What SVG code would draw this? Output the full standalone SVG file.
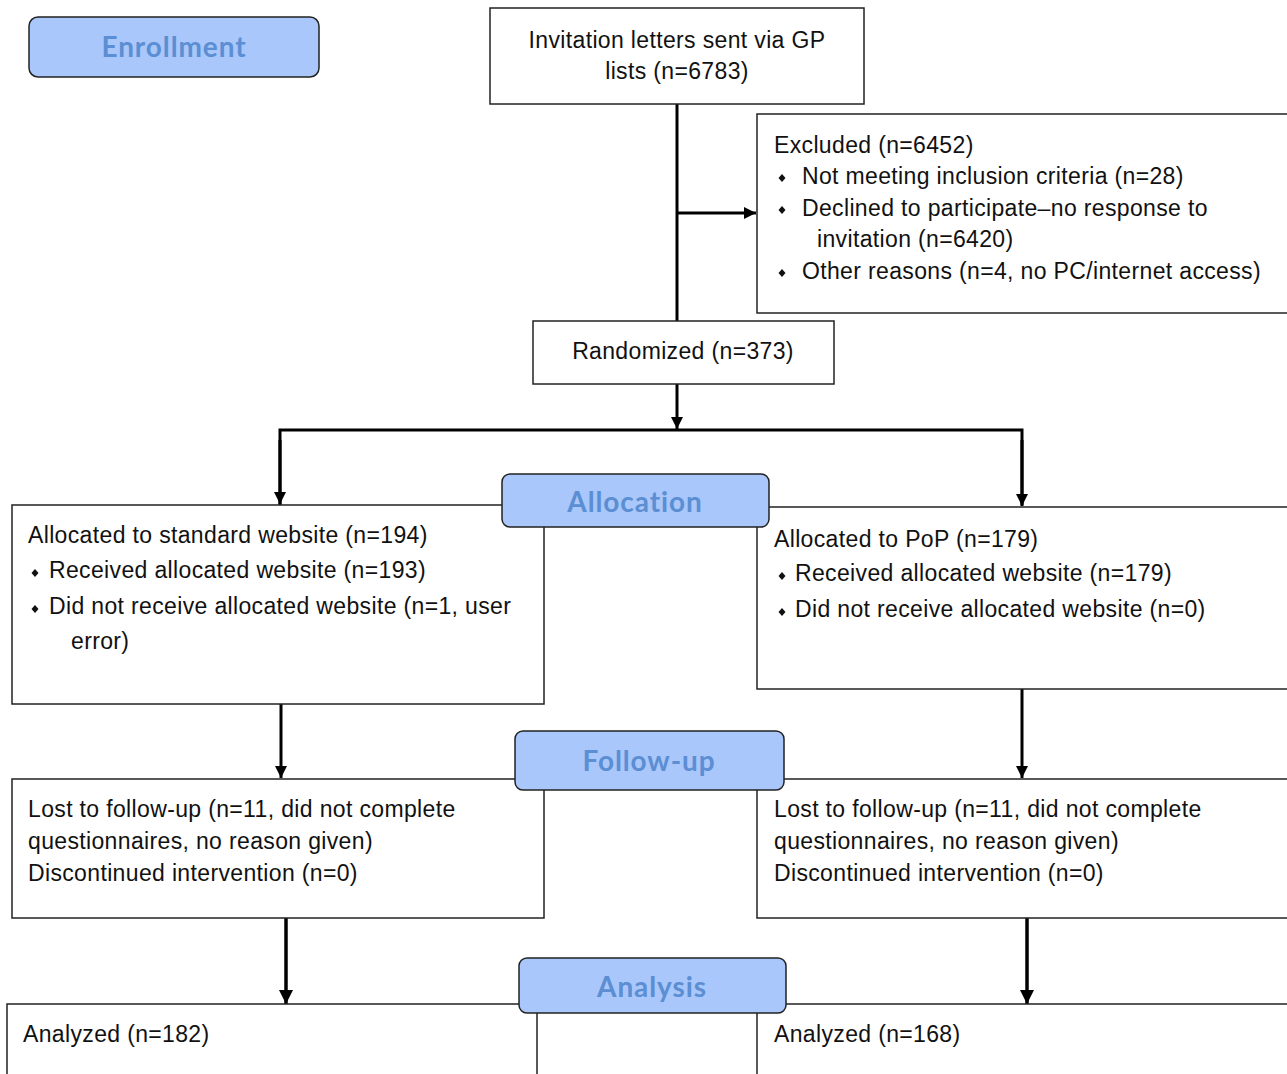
<svg xmlns="http://www.w3.org/2000/svg" width="1287" height="1074" viewBox="0 0 1287 1074">
<defs>
<style>
.box{fill:#fff;stroke:#222;stroke-width:1.5}
.lab{fill:#a9c7fa;stroke:#222;stroke-width:1.5}
.lt{font-family:Lato,"Open Sans",sans-serif;font-weight:bold;font-size:28px;letter-spacing:0.9px;fill:#5b8ed2;text-anchor:middle}
.t{font-family:"Liberation Sans",Arial,sans-serif;font-size:23px;letter-spacing:0.35px;fill:#111}
.c{text-anchor:middle}
.conn{stroke:#000;stroke-width:3;fill:none}
.b{fill:#111}
</style>
<marker id="ah" viewBox="0 0 10 10" refX="10" refY="5" markerWidth="4" markerHeight="4.5" orient="auto" markerUnits="strokeWidth">
<path d="M0,0 L10,5 L0,10 z" fill="#000"/>
</marker>
<path id="dia" d="M0,-4 L3.5,0 L0,4 L-3.5,0 z"/>
</defs>
<rect width="1287" height="1074" fill="#fff"/>

<g id="connectors">
<path class="conn" d="M677,104 V321"/>
<path class="conn" d="M677,213 H756" marker-end="url(#ah)"/>
<path class="conn" d="M677,384 V429" marker-end="url(#ah)"/>
<path class="conn" d="M280,505 V430 H1022 V505"/>
<path class="conn" d="M280,440 V504" marker-end="url(#ah)"/>
<path class="conn" d="M1022,440 V506" marker-end="url(#ah)"/>
<path class="conn" d="M281,704 V778" marker-end="url(#ah)"/>
<path class="conn" d="M1022,689 V778" marker-end="url(#ah)"/>
<path class="conn" d="M286,918 V1004" marker-end="url(#ah)" style="stroke-width:3.5"/>
<path class="conn" d="M1027,918 V1004" marker-end="url(#ah)" style="stroke-width:3.5"/>
</g>

<g id="enrollment">
<rect class="lab" x="29" y="17" width="290" height="60" rx="9"/>
<text class="lt" x="174" y="57">Enrollment</text>
</g>

<g id="invitation">
<rect class="box" x="490" y="8" width="374" height="96"/>
<text class="t c" x="677" y="48">Invitation letters sent via GP</text>
<text class="t c" x="677" y="79">lists (n=6783)</text>
</g>

<g id="excluded">
<rect class="box" x="757" y="114" width="533" height="199"/>
<text class="t" x="774" y="153">Excluded (n=6452)</text>
<use href="#dia" class="b" x="782" y="178"/>
<text class="t" x="802" y="184">Not meeting inclusion criteria (n=28)</text>
<use href="#dia" class="b" x="782" y="210"/>
<text class="t" x="802" y="216">Declined to participate–no response to</text>
<text class="t" x="817" y="247">invitation (n=6420)</text>
<use href="#dia" class="b" x="782" y="273"/>
<text class="t" x="802" y="279">Other reasons (n=4, no PC/internet access)</text>
</g>

<g id="randomized">
<rect class="box" x="533" y="321" width="301" height="63"/>
<text class="t c" x="683" y="359">Randomized (n=373)</text>
</g>

<g id="alloc-left">
<rect class="box" x="12" y="505" width="532" height="199"/>
<text class="t" x="28" y="543">Allocated to standard website (n=194)</text>
<use href="#dia" class="b" x="35" y="573"/>
<text class="t" x="49" y="578">Received allocated website (n=193)</text>
<use href="#dia" class="b" x="35" y="609"/>
<text class="t" x="49" y="614">Did not receive allocated website (n=1, user</text>
<text class="t" x="71" y="649">error)</text>
</g>

<g id="alloc-right">
<rect class="box" x="757" y="507" width="533" height="182"/>
<text class="t" x="774" y="547">Allocated to PoP (n=179)</text>
<use href="#dia" class="b" x="782" y="576"/>
<text class="t" x="795" y="581">Received allocated website (n=179)</text>
<use href="#dia" class="b" x="782" y="612"/>
<text class="t" x="795" y="617">Did not receive allocated website (n=0)</text>
</g>

<g id="allocation">
<rect class="lab" x="502" y="474" width="267" height="53" rx="8"/>
<text class="lt" x="635" y="512">Allocation</text>
</g>

<g id="follow-left">
<rect class="box" x="12" y="779" width="532" height="139"/>
<text class="t" x="28" y="817">Lost to follow-up (n=11, did not complete</text>
<text class="t" x="28" y="849">questionnaires, no reason given)</text>
<text class="t" x="28" y="881">Discontinued intervention (n=0)</text>
</g>

<g id="follow-right">
<rect class="box" x="757" y="779" width="533" height="139"/>
<text class="t" x="774" y="817">Lost to follow-up (n=11, did not complete</text>
<text class="t" x="774" y="849">questionnaires, no reason given)</text>
<text class="t" x="774" y="881">Discontinued intervention (n=0)</text>
</g>

<g id="followup">
<rect class="lab" x="515" y="731" width="269" height="59" rx="8"/>
<text class="lt" x="649" y="771">Follow-up</text>
</g>

<g id="analyzed-left">
<rect class="box" x="7" y="1004" width="530" height="80"/>
<text class="t" x="23" y="1042">Analyzed (n=182)</text>
</g>

<g id="analyzed-right">
<rect class="box" x="757" y="1004" width="533" height="80"/>
<text class="t" x="774" y="1042">Analyzed (n=168)</text>
</g>

<g id="analysis">
<rect class="lab" x="519" y="958" width="267" height="55" rx="8"/>
<text class="lt" x="652" y="997">Analysis</text>
</g>
</svg>
